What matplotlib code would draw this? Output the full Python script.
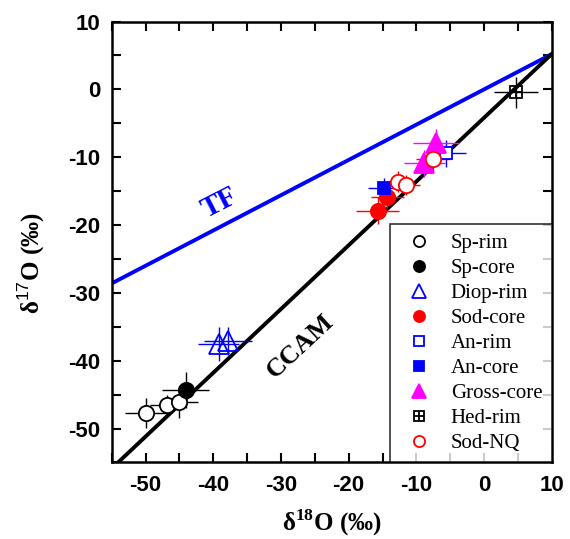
import matplotlib
matplotlib.use("Agg")
import matplotlib.pyplot as plt
from matplotlib.legend_handler import HandlerTuple
from matplotlib.lines import Line2D
import numpy as np

plt.rcParams['axes.unicode_minus'] = False
plt.rcParams['mathtext.fontset'] = 'custom'
plt.rcParams['mathtext.rm'] = 'Liberation Serif'
plt.rcParams['mathtext.bf'] = 'Liberation Serif:bold'
plt.rcParams['mathtext.sf'] = 'Liberation Sans'

# ---- data ----
sp_rim_x = [-50.0, -46.9, -45.0]
sp_rim_y = [-47.7, -46.6, -46.1]
sp_rim_xe = [3.1, 2.5, 2.7]
sp_rim_ye = [2.2, 1.6, 2.3]

sp_core_x = [-44.1]
sp_core_y = [-44.3]
sp_core_xe = [3.4]
sp_core_ye = [2.6]

diop_x = [-39.2, -37.8]
diop_y = [-37.6, -37.1]
diop_xe = [3.0, 3.5]
diop_ye = [2.5, 2.0]

sod_core_x = [-15.7, -14.3]
sod_core_y = [-17.9, -15.8]
sod_core_xe = [3.2, 2.4]
sod_core_ye = [2.0, 1.7]

an_rim_x = [-5.6]
an_rim_y = [-9.4]
an_rim_xe = [2.9]
an_rim_ye = [2.0]

an_core_x = [-14.8]
an_core_y = [-14.6]
an_core_xe = [2.4]
an_core_ye = [1.5]

gross_x = [-7.1, -8.8]
gross_y = [-7.9, -10.9]
gross_xe = [3.4, 3.0]
gross_ye = [2.0, 2.0]

hed_x = [4.7]
hed_y = [-0.4]
hed_xe = [3.3]
hed_ye = [2.3]

sodnq_x = [-12.7, -11.5, -7.5]
sodnq_y = [-13.6, -14.1, -10.3]
sodnq_xe = [2.0, 2.0, 2.5]
sodnq_ye = [1.5, 1.5, 1.8]

tf_slope, tf_int = 0.52, 0.0
ccam_slope, ccam_int = 0.94, -4.18

xticks = [-50, -40, -30, -20, -10, 0, 10]
yticks = [-50, -40, -30, -20, -10, 0, 10]

# ---- figure ----
fig = plt.figure(figsize=(5.7, 5.39), dpi=100)
ax = fig.add_axes([0.196, 0.142, 0.772, 0.818])
ax.set_xlim(-55, 10)
ax.set_ylim(-55, 10)

xx = np.array([-55, 10])
ax.plot(xx, tf_slope * xx + tf_int, color='#0000ff', lw=2.8, zorder=2)
ax.plot(xx, ccam_slope * xx + ccam_int, color='black', lw=2.8, zorder=2)

def series(x, y, xe, ye, marker, color, face, ms, mew=1.3):
    ax.errorbar(x, y, xerr=xe, yerr=ye, fmt='none', ecolor=color, elinewidth=1.0, capsize=0, zorder=3)
    ax.plot(x, y, linestyle='none', marker=marker, markersize=ms, markeredgecolor=color,
            markerfacecolor=face, markeredgewidth=mew, zorder=4)

series(sp_rim_x, sp_rim_y, sp_rim_xe, sp_rim_ye, 'o', 'black', 'white', 11)
series(sp_core_x, sp_core_y, sp_core_xe, sp_core_ye, 'o', 'black', 'black', 11)
series(diop_x, diop_y, diop_xe, diop_ye, '^', '#0000ff', 'none', 15)
series(sod_core_x, sod_core_y, sod_core_xe, sod_core_ye, 'o', '#ff0000', '#ff0000', 11)
series(an_rim_x, an_rim_y, an_rim_xe, an_rim_ye, 's', '#0000ff', 'white', 9)
series(an_core_x, an_core_y, an_core_xe, an_core_ye, 's', '#0000ff', '#0000ff', 9)
series(gross_x, gross_y, gross_xe, gross_ye, '^', '#ff00ff', '#ff00ff', 15)
series(sodnq_x, sodnq_y, sodnq_xe, sodnq_ye, 'o', '#ff0000', 'white', 11)
series(hed_x, hed_y, hed_xe, hed_ye, 's', 'black', 'none', 9)
ax.plot(hed_x, hed_y, linestyle='none', marker='+', markersize=9, color='black', mew=1.3, zorder=5)

# line labels
ax.text(-39.0, -16.8, 'TF', color='#0000ff', fontsize=21, fontweight='bold',
        family='Liberation Serif', rotation=27, ha='center', va='center')
ax.text(-27.2, -37.8, 'CCAM', color='black', fontsize=19, fontweight='bold',
        family='Liberation Serif', rotation=43, ha='center', va='center')

# axes styling
ax.set_xticks(xticks)
ax.set_yticks(yticks)
ax.set_xticks(np.arange(-55, 11, 5), minor=True)
ax.set_yticks(np.arange(-55, 11, 5), minor=True)
ax.tick_params(which='both', direction='in', top=True, right=True, width=1.5, length=6.5)
for lab in ax.get_xticklabels() + ax.get_yticklabels():
    lab.set_family('Liberation Sans')
    lab.set_fontweight('bold')
    lab.set_fontsize(16)
ax.tick_params(axis='x', pad=9)
ax.tick_params(axis='y', pad=8)
for s in ax.spines.values():
    s.set_linewidth(1.8)

ax.set_xlabel(r'δ$^{\mathbf{18}}$O (‰)', fontsize=18, fontweight='bold', family='Liberation Serif', labelpad=8)
ax.set_ylabel(r'δ$^{\mathsf{17}}$O (‰)', fontsize=18, fontweight='bold', family='Liberation Serif')
ax.yaxis.set_label_coords(-0.147, 0.453)

# legend
def h(marker, color, face, ms=8):
    return Line2D([], [], linestyle='none', marker=marker, markersize=ms, markeredgecolor=color,
                  markerfacecolor=face, markeredgewidth=1.3)

handles = [h('o', 'black', 'white'), h('o', 'black', 'black'), h('^', '#0000ff', 'none', 10),
           h('o', '#ff0000', '#ff0000'), h('s', '#0000ff', 'white', 7), h('s', '#0000ff', '#0000ff', 7),
           h('^', '#ff00ff', '#ff00ff', 10),
           (h('s', 'black', 'none', 7), h('+', 'black', 'none', 7)),
           h('o', '#ff0000', 'white')]
labels = ['Sp-rim', 'Sp-core', 'Diop-rim', 'Sod-core', 'An-rim', 'An-core', 'Gross-core', 'Hed-rim', 'Sod-NQ']
leg = ax.legend(handles, labels, loc='lower right', bbox_to_anchor=(1, 0), borderaxespad=0,
                frameon=True, fancybox=False, edgecolor='black',
                prop={'family': 'Liberation Serif', 'size': 15}, labelspacing=0.26,
                handletextpad=0.6, handlelength=1.85, borderpad=0.45,
                handler_map={tuple: HandlerTuple(ndivide=1, pad=0)})
leg.get_frame().set_linewidth(1.2)
leg.set_zorder(6)

fig.savefig('out.png', dpi=100)
